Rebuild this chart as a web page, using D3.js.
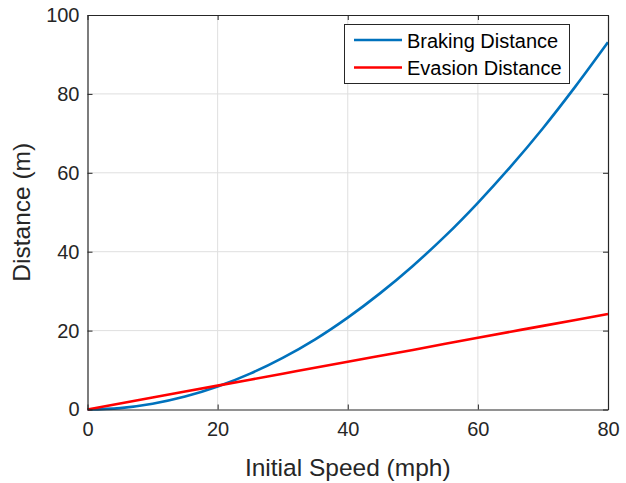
<!DOCTYPE html>
<html>
<head>
<meta charset="utf-8">
<script src="https://cdn.jsdelivr.net/npm/d3@7"></script>
<style>
  body { margin: 0; background: #fff; }
  svg { display: block; font-family: "Liberation Sans", Arial, sans-serif; }
</style>
</head>
<body>
<div id="chart"></div>
<script>
// values
const speeds = [0, 5, 10, 15, 20, 25, 30, 35, 40, 45, 50, 55, 60, 65, 70, 75, 80];
const braking = [0, 0.36, 1.46, 3.27, 5.82, 9.09, 13.1, 17.8, 23.3, 29.5, 36.4, 44.0, 52.4, 61.5, 71.3, 81.9, 93.1];
const evasionSpeeds = [0, 10, 20, 30, 40, 50, 60, 70, 80];
const evasion = [0, 3.03, 6.05, 9.08, 12.1, 15.1, 18.2, 21.2, 24.2];
const xTicks = [0, 20, 40, 60, 80];
const yTicks = [0, 20, 40, 60, 80, 100];
const seriesNames = ["Braking Distance", "Evasion Distance"];
const seriesColors = ["#0072BD", "#FF0000"];

const width = 626, height = 483;
const plotLeft = 87.5, plotRight = 608, plotTop = 15, plotBottom = 409.5;

const svg = d3.select("#chart").append("svg")
    .attr("width", width)
    .attr("height", height);

const x = d3.scaleLinear().domain([0, 80]).range([plotLeft, plotRight]);
const y = d3.scaleLinear().domain([0, 100]).range([plotBottom, plotTop]);

// grid
svg.append("g").selectAll("line")
    .data(xTicks.slice(1, -1))
    .join("line")
    .attr("x1", d => x(d)).attr("x2", d => x(d))
    .attr("y1", plotTop).attr("y2", plotBottom)
    .attr("stroke", "#dfdfdf").attr("stroke-width", 1);

svg.append("g").selectAll("line")
    .data(yTicks.slice(1, -1))
    .join("line")
    .attr("x1", plotLeft).attr("x2", plotRight)
    .attr("y1", d => y(d)).attr("y2", d => y(d))
    .attr("stroke", "#dfdfdf").attr("stroke-width", 1);

// lines
const line = d3.line().curve(d3.curveMonotoneX);

svg.append("path")
    .attr("d", line(speeds.map((s, i) => [x(s), y(braking[i])])))
    .attr("fill", "none")
    .attr("stroke", seriesColors[0])
    .attr("stroke-width", 2.6);

svg.append("path")
    .attr("d", line(evasionSpeeds.map((s, i) => [x(s), y(evasion[i])])))
    .attr("fill", "none")
    .attr("stroke", seriesColors[1])
    .attr("stroke-width", 2.6);

// axes (MATLAB-style box, ticks inside)
const axisColor = "#262626";

const xb = svg.append("g")
    .attr("transform", `translate(0,${plotBottom})`)
    .call(d3.axisBottom(x).tickValues(xTicks).tickSizeInner(-5).tickSizeOuter(0).tickPadding(12));
const yl = svg.append("g")
    .attr("transform", `translate(${plotLeft},0)`)
    .call(d3.axisLeft(y).tickValues(yTicks).tickSizeInner(-5).tickSizeOuter(0).tickPadding(8));
const xt = svg.append("g")
    .attr("transform", `translate(0,${plotTop})`)
    .call(d3.axisTop(x).tickValues(xTicks).tickSizeInner(-5).tickSizeOuter(0).tickFormat(""));
const yr = svg.append("g")
    .attr("transform", `translate(${plotRight},0)`)
    .call(d3.axisRight(y).tickValues(yTicks).tickSizeInner(-5).tickSizeOuter(0).tickFormat(""));

[xb, yl, xt, yr].forEach(g => {
    g.select(".domain").attr("stroke", axisColor).attr("stroke-width", 1.2);
    g.selectAll(".tick line").attr("stroke", axisColor);
    g.selectAll(".tick text")
        .attr("fill", axisColor)
        .style("font-size", "20px")
        .style("font-family", "'Liberation Sans', Arial, sans-serif");
});

// axis titles
svg.append("text")
    .attr("x", (plotLeft + plotRight) / 2)
    .attr("y", 476)
    .attr("text-anchor", "middle")
    .attr("fill", axisColor)
    .style("font-size", "24.5px")
    .text("Initial Speed (mph)");

svg.append("text")
    .attr("transform", `translate(30,${(plotTop + plotBottom) / 2}) rotate(-90)`)
    .attr("text-anchor", "middle")
    .attr("fill", axisColor)
    .style("font-size", "24.5px")
    .text("Distance (m)");

// legend
const legend = svg.append("g");
legend.append("rect")
    .attr("x", 344.5).attr("y", 24.5)
    .attr("width", 225).attr("height", 59)
    .attr("fill", "#fff")
    .attr("stroke", axisColor)
    .attr("stroke-width", 1);

seriesNames.forEach((name, i) => {
    const ly = 40 + i * 27.5;
    legend.append("line")
        .attr("x1", 354).attr("x2", 402)
        .attr("y1", ly).attr("y2", ly)
        .attr("stroke", seriesColors[i])
        .attr("stroke-width", 2.6);
    legend.append("text")
        .attr("x", 407).attr("y", ly + 7.5)
        .attr("fill", "#000")
        .style("font-size", "20px")
        .text(name);
});
</script>
</body>
</html>
